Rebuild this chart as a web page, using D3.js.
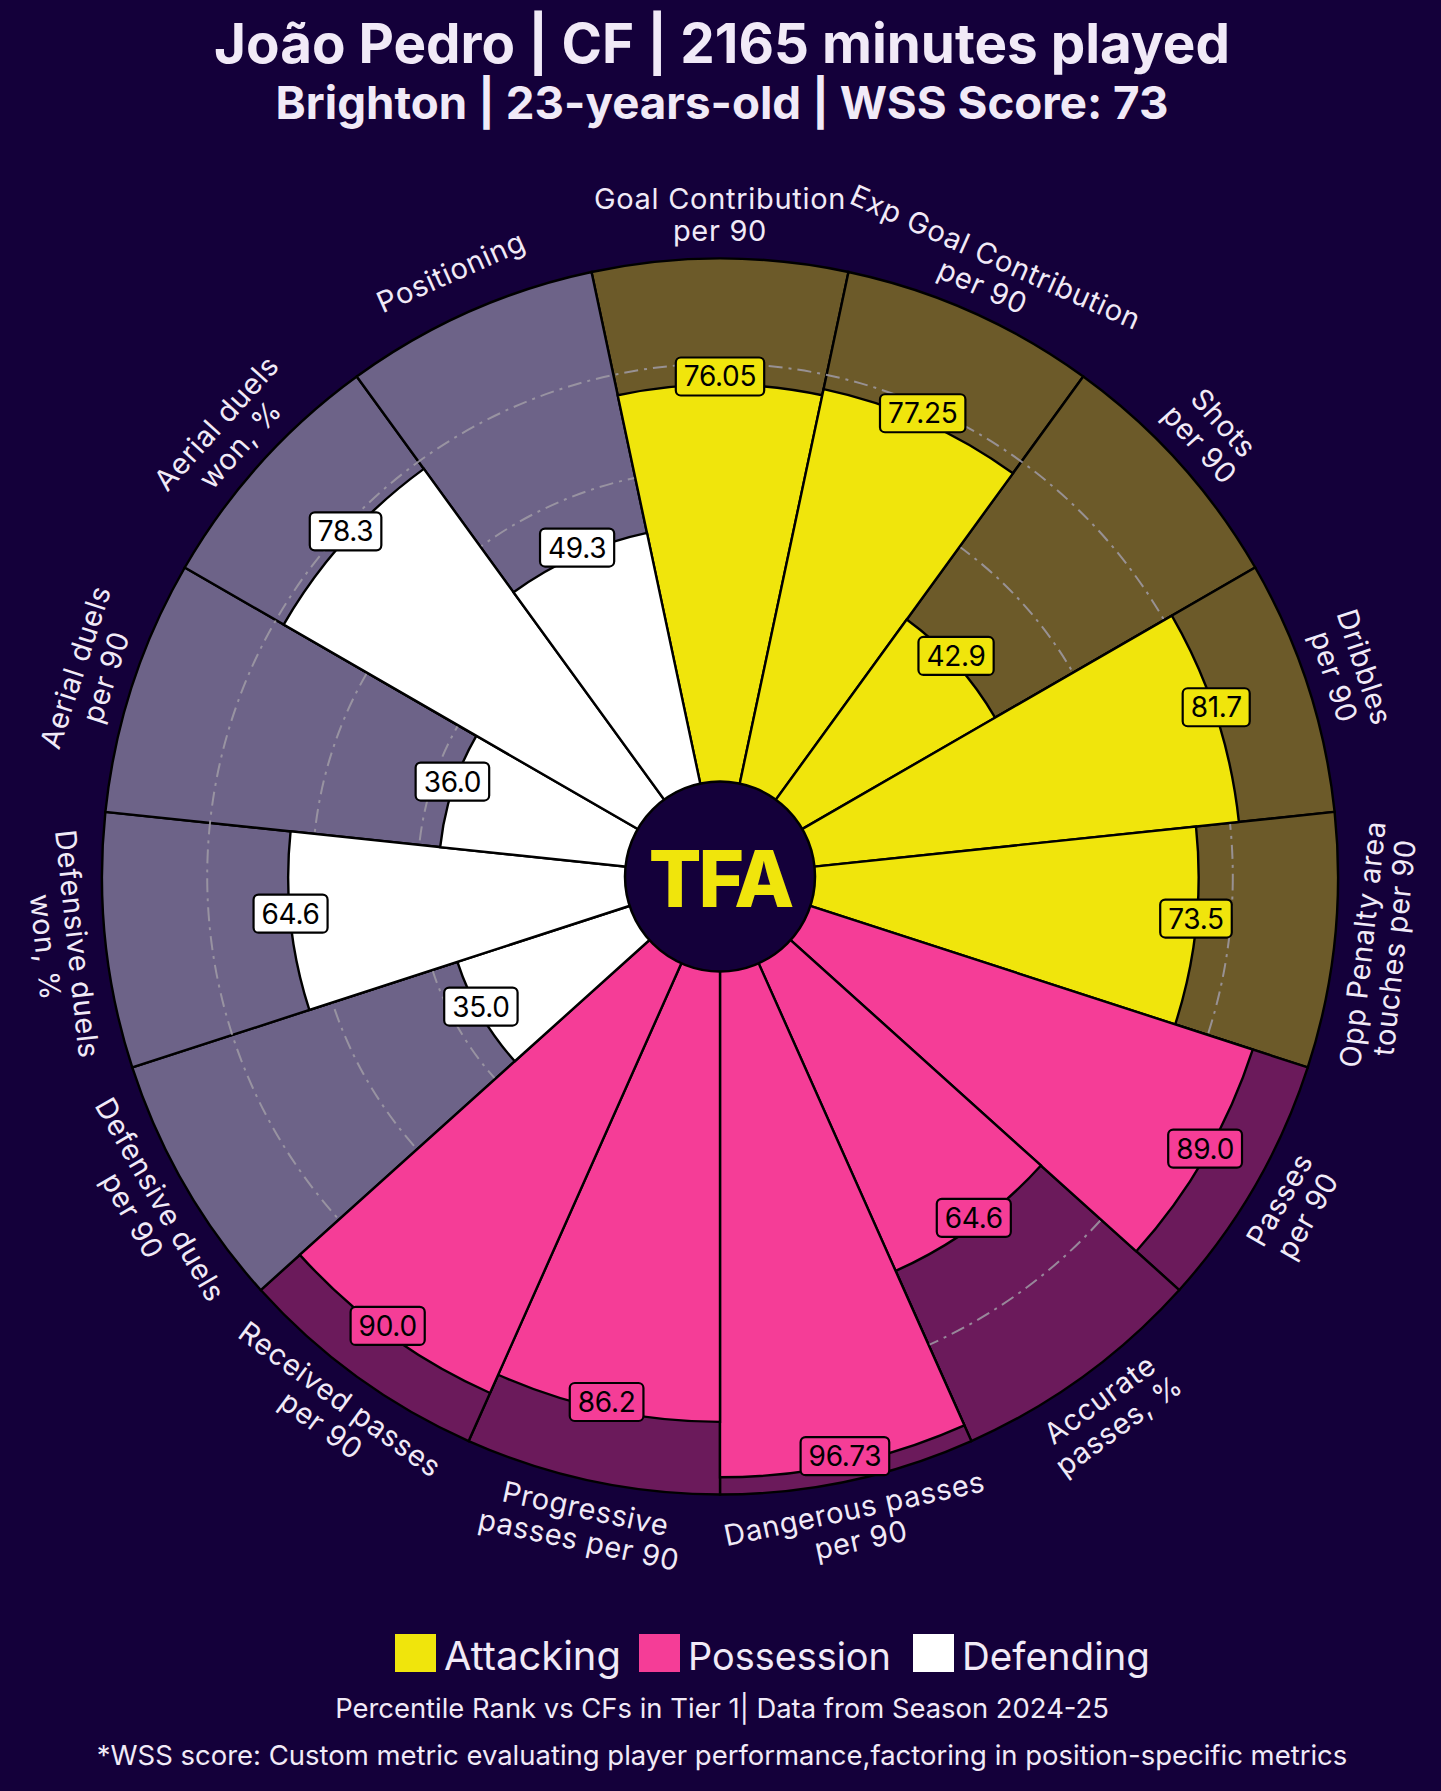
<!DOCTYPE html>
<html>
<head>
<meta charset="utf-8">
<script src="https://cdn.jsdelivr.net/npm/d3@7"></script>
<style>
  html, body { margin: 0; padding: 0; background: #14003a; }
  svg { display: block; }
  text { font-family: Inter, "Noto Sans", sans-serif; }
</style>
</head>
<body>
<svg id="chart" width="1441" height="1791"></svg>
<script>
// ---------------- data ----------------
const categories = [
  "Goal Contribution\nper 90",
  "Exp Goal Contribution\nper 90",
  "Shots\nper 90",
  "Dribbles\nper 90",
  "Opp Penalty area\ntouches per 90",
  "Passes\nper 90",
  "Accurate\npasses, %",
  "Dangerous passes\nper 90",
  "Progressive\npasses per 90",
  "Received passes\nper 90",
  "Defensive duels\nper 90",
  "Defensive duels\nwon, %",
  "Aerial duels\nper 90",
  "Aerial duels\nwon, %",
  "Positioning"
];
const values = [76.05, 77.25, 42.9, 81.7, 73.5, 89.0, 64.6, 96.73, 86.2, 90.0, 35.0, 64.6, 36.0, 78.3, 49.3];
const groups = ["Attacking","Attacking","Attacking","Attacking","Attacking",
                "Possession","Possession","Possession","Possession","Possession",
                "Defending","Defending","Defending","Defending","Defending"];
const groupNames = ["Attacking", "Possession", "Defending"];
const gridTicks = [20, 40, 60, 80];
const titleText = "João Pedro | CF | 2165 minutes played";
const subtitleText = "Brighton | 23-years-old | WSS Score: 73";
const footer1 = "Percentile Rank vs CFs in Tier 1| Data from Season 2024-25";
const footer2 = "*WSS score: Custom metric evaluating player performance,factoring in position-specific metrics";

// ---------------- styles ----------------
const BG = "#14003a";
const barColor = d3.scaleOrdinal().domain(groupNames).range(["#f0e50c", "#f53d97", "#ffffff"]);
const slotColor = d3.scaleOrdinal().domain(groupNames).range(["#6c5a29", "#6b1a5b", "#6d6388"]);
const textColor = "#f1eaf7";

const svg = d3.select("#chart");
svg.append("rect").attr("width", 1441).attr("height", 1791).attr("fill", BG);

const cx = 720, cy = 876.5, R = 618, r0 = 92;
const rScale = d3.scaleLinear().domain([0, 100]).range([r0, R]);
const n = categories.length;
const step = 2 * Math.PI / n;
const aScale = d3.scaleLinear().domain([0, n]).range([0, 2 * Math.PI]);

const g = svg.append("g").attr("transform", `translate(${cx},${cy})`);

// background slots
const arc = d3.arc();
g.selectAll("path.slot").data(values).join("path")
  .attr("class", "slot")
  .attr("d", (d, i) => arc({innerRadius: 0, outerRadius: rScale(100),
        startAngle: aScale(i) - step / 2, endAngle: aScale(i) + step / 2}))
  .attr("fill", (d, i) => slotColor(groups[i]))
  .attr("stroke", "#000").attr("stroke-width", 2.4);

// grid circles
g.selectAll("circle.grid").data(gridTicks).join("circle")
  .attr("class", "grid")
  .attr("r", d => rScale(d))
  .attr("fill", "none")
  .attr("stroke", "#a09ba6").attr("stroke-opacity", 0.85)
  .attr("stroke-width", 2)
  .attr("stroke-dasharray", "14,6,3,6");

// value bars
g.selectAll("path.bar").data(values).join("path")
  .attr("class", "bar")
  .attr("d", (d, i) => arc({innerRadius: 0, outerRadius: rScale(d),
        startAngle: aScale(i) - step / 2, endAngle: aScale(i) + step / 2}))
  .attr("fill", (d, i) => barColor(groups[i]))
  .attr("stroke", "#000").attr("stroke-width", 2.4);

// center circle
g.append("circle").attr("r", 95).attr("fill", BG).attr("stroke", "#000").attr("stroke-width", 2.5);
g.append("text").text("TFA")
  .attr("x", 0).attr("y", 2)
  .attr("text-anchor", "middle").attr("dominant-baseline", "central")
  .attr("font-size", 78).attr("font-weight", 800).attr("letter-spacing", -3)
  .attr("fill", "#f0e50c");

// value labels
const fmt = v => Math.abs(v * 10 - Math.round(v * 10)) < 1e-9 ? v.toFixed(1) : v.toFixed(2);
const vl = g.selectAll("g.vlab").data(values).join("g")
  .attr("class", "vlab")
  .attr("transform", (d, i) => {
    const a = aScale(i), r = rScale(d);
    return `translate(${r * Math.sin(a)},${-r * Math.cos(a) - 8})`;
  });
vl.append("rect");
vl.append("text")
  .text(d => fmt(d))
  .attr("text-anchor", "middle").attr("dominant-baseline", "central")
  .attr("font-size", 28).attr("fill", "#000").attr("letter-spacing", -0.3);
vl.each(function(d, i) {
  const t = d3.select(this).select("text").node();
  const w = t.getComputedTextLength();
  d3.select(this).select("rect")
    .attr("x", -w / 2 - 8).attr("y", -19).attr("width", w + 16).attr("height", 38)
    .attr("rx", 5).attr("fill", barColor(groups[i]))
    .attr("stroke", "#000").attr("stroke-width", 2.2);
});

// category labels
const Rl = 662, lineH = 32;
const cl = g.selectAll("g.clab").data(categories).join("g")
  .attr("class", "clab")
  .attr("transform", (d, i) => {
    const a = aScale(i);
    const deg = a * 180 / Math.PI;
    const rot = (deg <= 90 || deg >= 270) ? deg : deg - 180;
    return `translate(${Rl * Math.sin(a)},${-Rl * Math.cos(a)}) rotate(${rot})`;
  });
cl.append("text")
  .attr("text-anchor", "middle")
  .attr("font-size", 29).attr("letter-spacing", 0.7).attr("fill", textColor)
  .each(function(d) {
    const lines = d.split("\n");
    const t = d3.select(this);
    lines.forEach((ln, k) => {
      t.append("tspan").attr("x", 0)
        .attr("y", (k - (lines.length - 1) / 2) * lineH)
        .attr("dominant-baseline", "central")
        .text(ln);
    });
  });

// titles
function fitText(sel, target) {
  const w = sel.node().getComputedTextLength();
  const fs = parseFloat(sel.attr("font-size"));
  sel.attr("font-size", fs * target / w);
}
const t1 = svg.append("text").text(titleText)
  .attr("x", 722).attr("y", 63).attr("text-anchor", "middle")
  .attr("font-size", 48).attr("font-weight", 700).attr("fill", textColor);
fitText(t1, 1016);
const t2 = svg.append("text").text(subtitleText)
  .attr("x", 722).attr("y", 119).attr("text-anchor", "middle")
  .attr("font-size", 38).attr("font-weight", 700).attr("fill", textColor);
fitText(t2, 893);

// legend
const legendX = [395, 639, 913];
const legendW = [177, 203, 188];
groupNames.forEach((name, k) => {
  svg.append("rect").attr("x", legendX[k]).attr("y", 1634)
    .attr("width", 41).attr("height", 38).attr("fill", barColor(name));
  const lt = svg.append("text").text(name)
    .attr("x", legendX[k] + 49).attr("y", 1670)
    .attr("font-size", 38).attr("fill", textColor);
  fitText(lt, legendW[k]);
});

const f1 = svg.append("text").text(footer1)
  .attr("x", 722).attr("y", 1718).attr("text-anchor", "middle")
  .attr("font-size", 24).attr("fill", textColor);
fitText(f1, 774);
const f2 = svg.append("text").text(footer2)
  .attr("x", 722).attr("y", 1765).attr("text-anchor", "middle")
  .attr("font-size", 24).attr("fill", textColor);
fitText(f2, 1251);
</script>
</body>
</html>
